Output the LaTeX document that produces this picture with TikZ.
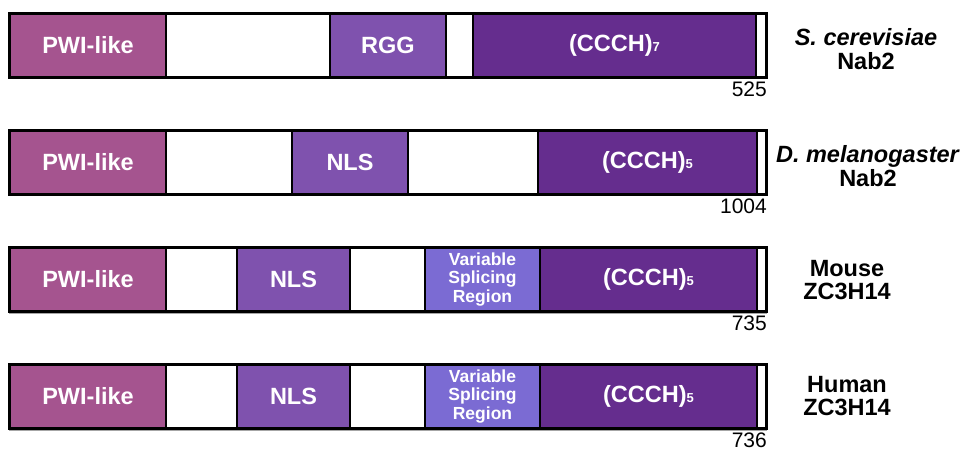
\documentclass[tikz,border=0pt]{standalone}
\usepackage{fontspec}
\setmainfont{Liberation Sans}
\definecolor{pwi}{HTML}{A5548F}
\definecolor{nls}{HTML}{7F52AE}
\definecolor{vsr}{HTML}{7B6BD3}
\definecolor{zf}{HTML}{652D8E}
\tikzset{
  seg/.style={draw=black,line width=2pt,inner sep=0pt,text=white,font=\fontsize{23.5}{26}\selectfont\bfseries,align=center},
  pwibox/.style={seg,fill=pwi},
  nlsbox/.style={seg,fill=nls},
  vsrbox/.style={seg,fill=vsr,font=\fontsize{17.5}{18.5}\selectfont\bfseries},
  zfbox/.style={seg,fill=zf},
  blank/.style={seg,fill=white},
  outline/.style={draw=black,line width=2pt},
  shadow/.style={draw=black!35,line width=1pt},
  lenlabel/.style={anchor=north east,inner sep=0pt,font=\fontsize{21}{21}\selectfont},
  species/.style={align=center,inner sep=0pt,font=\fontsize{23.5}{23.5}\selectfont\bfseries}
}
\newcommand\dseg[7]{%
  \node[#6,minimum width={(#3-#2)*1pt},minimum height={(#5-#4)*1pt}] (#1) at ({(#2+#3)/2},{(#4+#5)/2}) {#7};}
\newcommand\sbs[1]{{\fontsize{13}{13}\selectfont #1}}
\begin{document}
\begin{tikzpicture}[x=1pt,y=-1pt]
\useasboundingbox (0,0) rectangle (967,449);
% Row 1: S. cerevisiae
\draw[shadow] (9,79) -- (767,79);
\dseg{aP}{10}{166}{14}{77}{pwibox}{PWI-like}
\dseg{aW1}{166}{330}{14}{77}{blank}{}
\dseg{aR}{330}{446}{14}{77}{nlsbox}{RGG}
\dseg{aW2}{446}{473}{14}{77}{blank}{}
\dseg{aZ}{473}{756}{14}{77}{zfbox}{(CCCH)\sbs{7}}
\dseg{aE}{756}{766}{14}{77}{blank}{}
\draw[outline] (aP.north west) rectangle (aE.south east);
\node[lenlabel] (aL) at ([yshift=-4pt]aE.south east) {525};
\node[species] (aS) at (866,49) {\textit{S. cerevisiae}\\Nab2};
% Row 2: D. melanogaster
\draw[shadow] (9,196) -- (767,196);
\dseg{bP}{10}{166}{131}{194}{pwibox}{PWI-like}
\dseg{bW1}{166}{292}{131}{194}{blank}{}
\dseg{bN}{292}{408}{131}{194}{nlsbox}{NLS}
\dseg{bW2}{408}{538}{131}{194}{blank}{}
\dseg{bZ}{538}{757}{131}{194}{zfbox}{(CCCH)\sbs{5}}
\dseg{bE}{757}{766}{131}{194}{blank}{}
\draw[outline] (bP.north west) rectangle (bE.south east);
\node[lenlabel] (bL) at ([yshift=-4pt]bE.south east) {1004};
\node[species] (bS) at (868,166) {\textit{D. melanogaster}\\Nab2};
% Row 3: Mouse
\draw[shadow] (9,313) -- (767,313);
\dseg{cP}{10}{166}{248}{311}{pwibox}{PWI-like}
\dseg{cW1}{166}{237}{248}{311}{blank}{}
\dseg{cN}{237}{350}{248}{311}{nlsbox}{NLS}
\dseg{cW2}{350}{425}{248}{311}{blank}{}
\dseg{cV}{425}{540}{248}{311}{vsrbox}{Variable\\Splicing\\Region}
\dseg{cZ}{540}{757}{248}{311}{zfbox}{(CCCH)\sbs{5}}
\dseg{cE}{757}{766}{248}{311}{blank}{}
\draw[outline] (cP.north west) rectangle (cE.south east);
\node[lenlabel] (cL) at ([yshift=-4pt]cE.south east) {735};
\node[species] (cS) at (847,280) {Mouse\\ZC3H14};
% Row 4: Human
\draw[shadow] (9,430) -- (767,430);
\dseg{dP}{10}{166}{365}{428}{pwibox}{PWI-like}
\dseg{dW1}{166}{237}{365}{428}{blank}{}
\dseg{dN}{237}{350}{365}{428}{nlsbox}{NLS}
\dseg{dW2}{350}{425}{365}{428}{blank}{}
\dseg{dV}{425}{540}{365}{428}{vsrbox}{Variable\\Splicing\\Region}
\dseg{dZ}{540}{757}{365}{428}{zfbox}{(CCCH)\sbs{5}}
\dseg{dE}{757}{766}{365}{428}{blank}{}
\draw[outline] (dP.north west) rectangle (dE.south east);
\node[lenlabel] (dL) at ([yshift=-4pt]dE.south east) {736};
\node[species] (dS) at (847,396) {Human\\ZC3H14};
\end{tikzpicture}
\end{document}
